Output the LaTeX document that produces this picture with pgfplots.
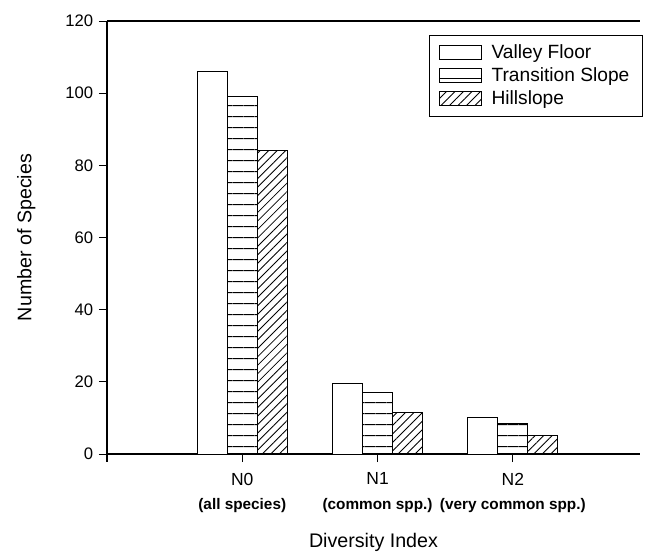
\documentclass[border=0pt]{standalone}
\usepackage{fontspec}
\setmainfont{Liberation Sans}
\usepackage{pgfplots}
\pgfplotsset{compat=1.18}
\usetikzlibrary{patterns.meta}
\begin{document}
\begin{tikzpicture}[x=1pt,y=1pt]
\def\u{0.6}
\path[use as bounding box] (-107*\u,-101*\u) rectangle (542*\u,454*\u);
\begin{axis}[
  at={(0,0)}, anchor=south west,
  scale only axis,
  width=319.8pt, height=259.8pt,
  xmin=-1, xmax=2.94,
  ymin=0, ymax=120,
  ytick={0,20,...,120},
  xtick={0,1,2},
  xticklabels={N0\\[3.5pt]{\fontsize{9.2}{10}\selectfont\bfseries (all species)},
               N1\\[3.5pt]{\fontsize{9.2}{10}\selectfont\bfseries (common spp.)},
               N2\\[3.5pt]{\fontsize{9.2}{10}\selectfont\bfseries (very common spp.)}},
  xticklabel style={align=center, font=\fontsize{10.5}{11}\selectfont, yshift=-3pt},
  yticklabel style={font=\fontsize{10}{11}\selectfont},
  /pgf/number format/assume math mode=true,
  axis x line*=bottom, axis y line*=left,
  axis line style={-, black, line width=0.7pt},
  tick style={black, line width=0.6pt},
  tick align=outside,
  major tick length=4.8pt,
  xlabel={Diversity Index}, ylabel={Number of Species},
  label style={font=\fontsize{11.8}{13}\selectfont},
  xlabel style={yshift=-5.5pt},
  ylabel style={yshift=11pt},
  ybar=0pt, bar width=18pt,
  legend style={at={(1.006,0.968)}, anchor=north east, draw=black, line width=0.6pt,
    font=\fontsize{11.5}{13}\selectfont, inner xsep=6pt, inner ysep=3.5pt, row sep=0pt,
    cells={anchor=west}},
  legend image code/.code={\draw[#1, line width=0.5pt] (0pt,-4.2pt) rectangle (25pt,4.2pt);\path[draw=none,fill=none] (0pt,0pt) -- (29pt,0pt);},
  clip=false,
]
\addplot[draw=black, fill=white, line width=0.6pt] coordinates {(0,106) (1,19.5) (2,10)};
\addplot[draw=black, line width=0.6pt, pattern={Lines[angle=0, distance=6.5pt, line width=0.5pt]}] coordinates {(0,99) (1,17) (2,8.5)};
\addplot[draw=black, line width=0.6pt, pattern={Lines[angle=45, distance=3.6pt, line width=0.5pt]}] coordinates {(0,84) (1,11.5) (2,5)};
\legend{Valley Floor, Transition Slope, Hillslope}
\draw[black, line width=0.7pt] (rel axis cs:0,1) -- (rel axis cs:1,1);
\draw[black, line width=0.7pt] (rel axis cs:0,0) -- ([yshift=-4.8pt]rel axis cs:0,0);
\end{axis}
\end{tikzpicture}
\end{document}
